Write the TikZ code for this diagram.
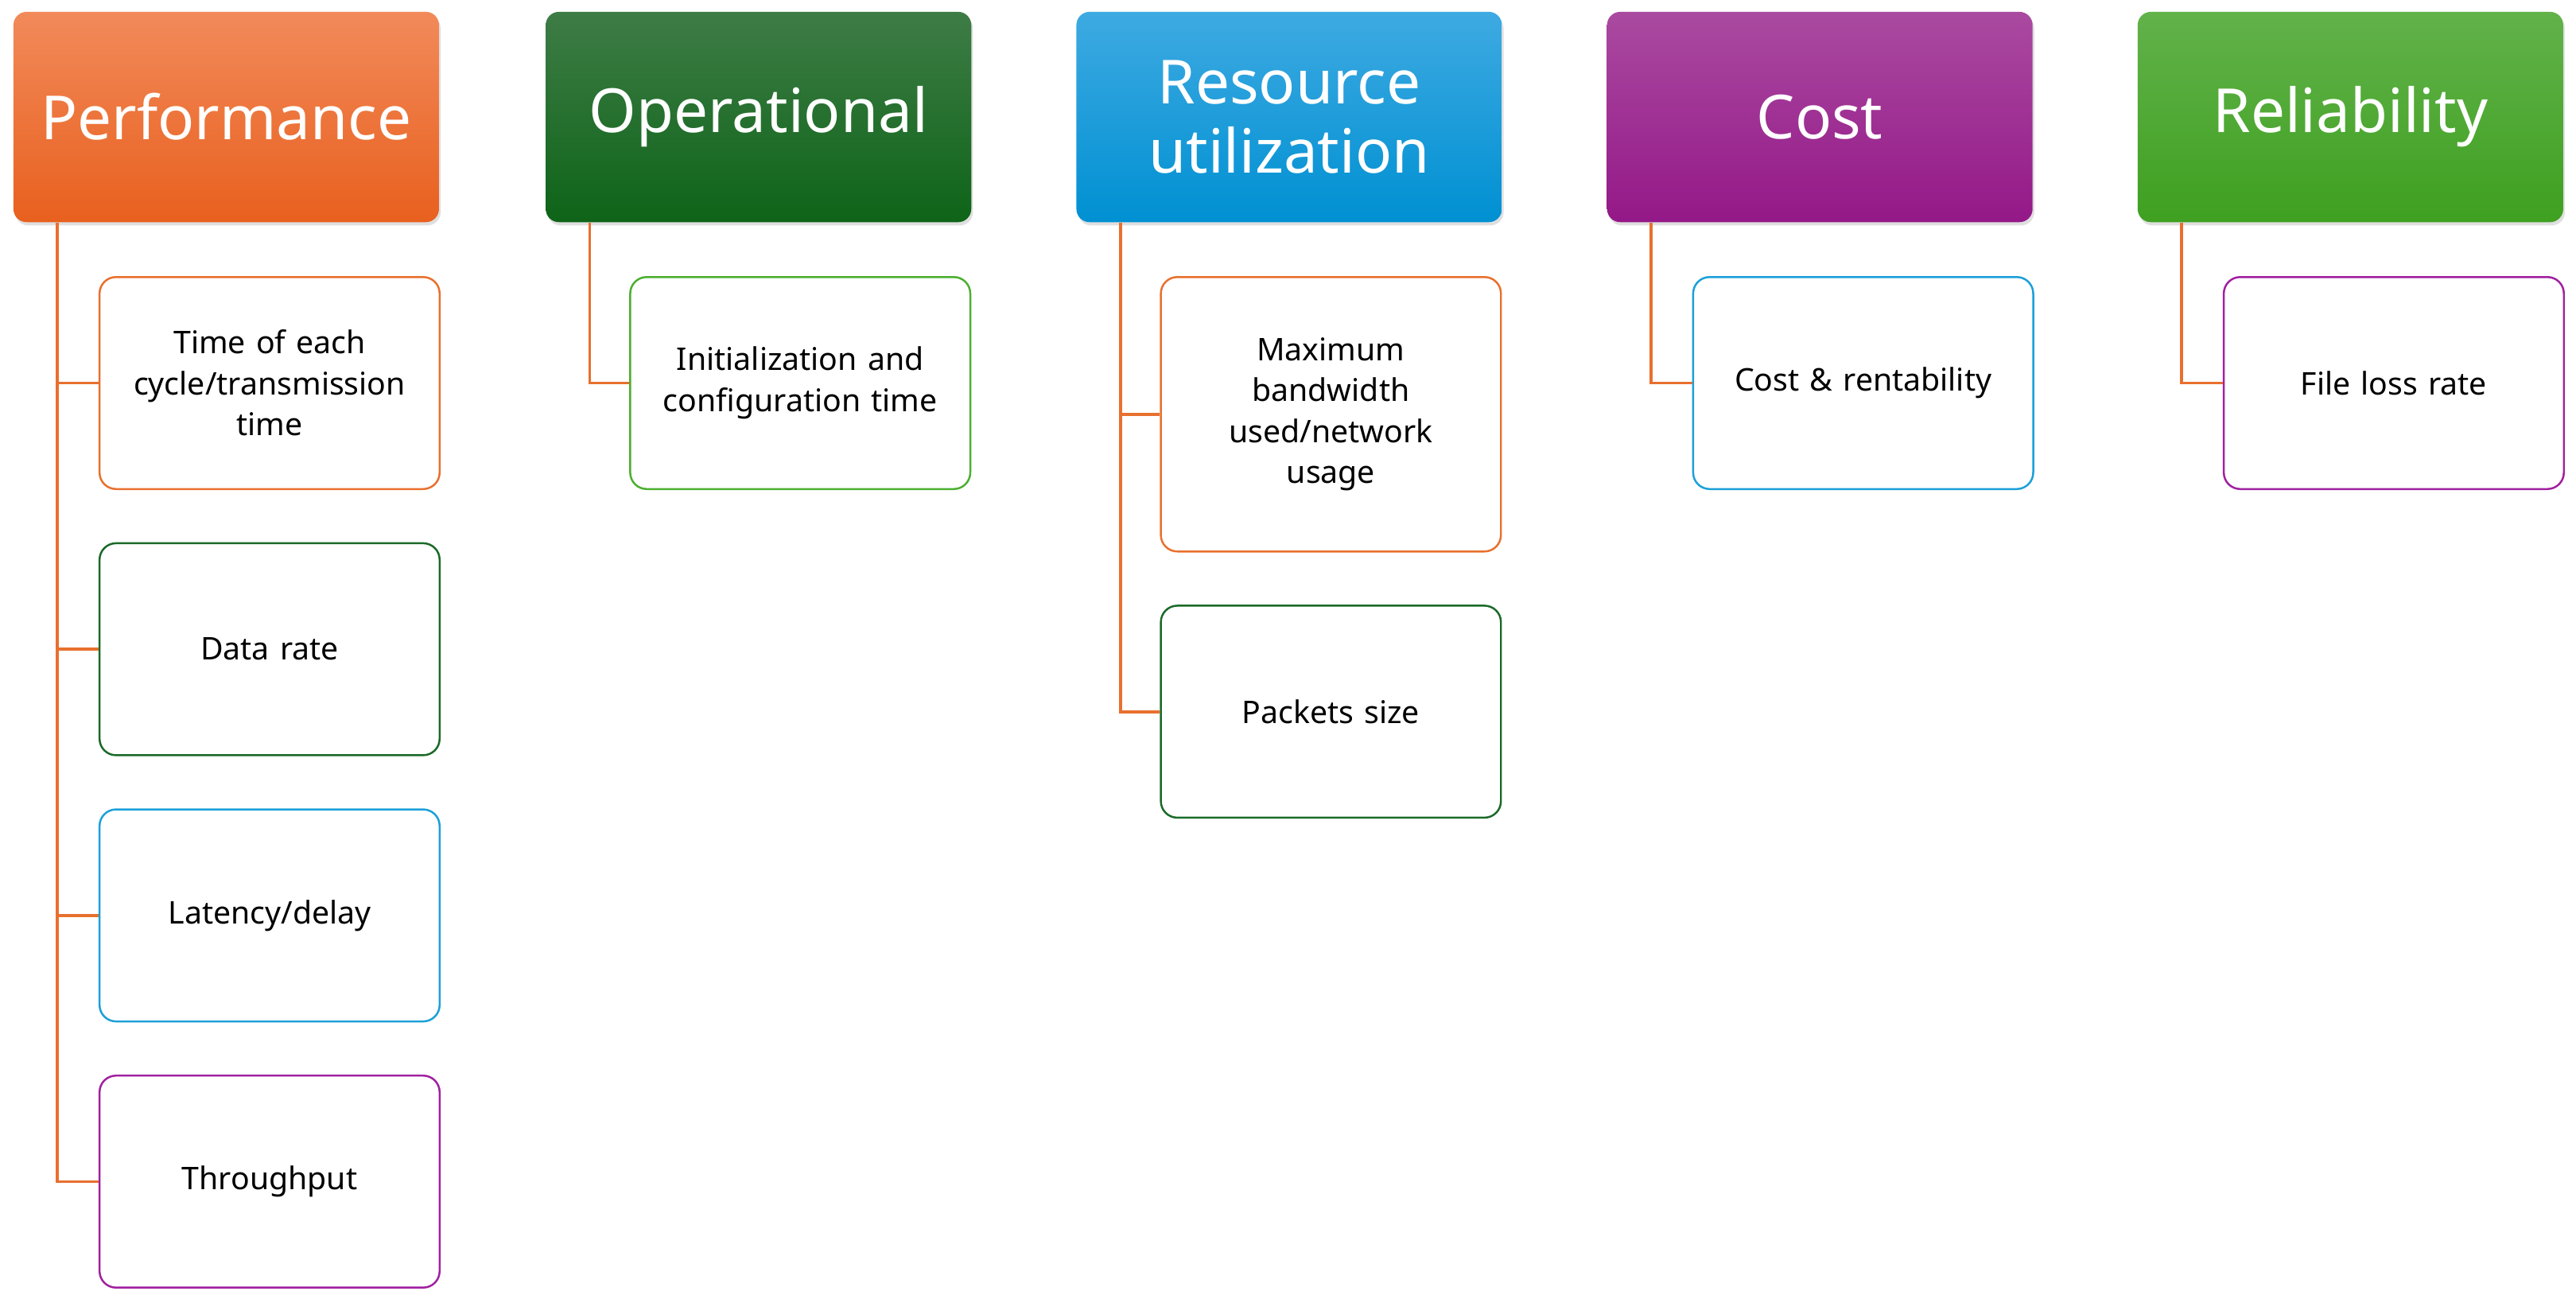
\documentclass[tikz,border=0pt]{standalone}
\usepackage{fontspec}
\setmainfont{Noto Sans}
\usetikzlibrary{shadows}
\definecolor{orA}{HTML}{F28A5A}\definecolor{orB}{HTML}{E8601E}
\definecolor{dgA}{HTML}{3E7C46}\definecolor{dgB}{HTML}{0E6418}
\definecolor{blA}{HTML}{3EAAE2}\definecolor{blB}{HTML}{0090D2}
\definecolor{puA}{HTML}{AA4AA0}\definecolor{puB}{HTML}{941888}
\definecolor{lgA}{HTML}{62B24A}\definecolor{lgB}{HTML}{3EA020}
\definecolor{cOr}{HTML}{E8702E}\definecolor{cDg}{HTML}{1A6A28}
\definecolor{cBl}{HTML}{1BA0D8}\definecolor{cPu}{HTML}{A020A0}
\definecolor{cLg}{HTML}{4CAF30}
\begin{document}
\begin{tikzpicture}[x=1pt,y=-1pt,
 head/.style={rounded corners=8pt,minimum width=259pt,minimum height=128pt,anchor=north west,
   text=white,font=\fontsize{37}{42}\selectfont,align=center,inner sep=2pt,
   drop shadow={shadow xshift=1pt,shadow yshift=-2pt,opacity=0.25}},
 kid/.style={draw=#1,line width=1.2pt,rounded corners=10pt,fill=white,minimum width=207pt,
   minimum height=129pt,anchor=north west,align=center,text width=195pt,
   font=\fontsize{19}{25}\selectfont},
 conn/.style={draw=cOr,line width=1.8pt}]
\useasboundingbox (0,0) rectangle (1568,788);
\node[head,top color=orA,bottom color=orB] (h1) at (8,7) {Performance};
\node[head,top color=dgA,bottom color=dgB] (h2) at (332,7) {Operational};
\node[head,top color=blA,bottom color=blB] (h3) at (655,7) {Resource\\utilization};
\node[head,top color=puA,bottom color=puB] (h4) at (978,7) {Cost};
\node[head,top color=lgA,bottom color=lgB] (h5) at (1301,7) {Reliability};
\node[kid=cOr] (a1) at (60,168) {Time of each\\cycle/transmission\\time};
\node[kid=cDg] (a2) at (60,330) {Data rate};
\node[kid=cBl] (a3) at (60,492) {Latency/delay};
\node[kid=cPu] (a4) at (60,654) {Throughput};
\node[kid=cLg] (b1) at (383,168) {Initialization and\\configuration time};
\node[kid=cOr,minimum height=167pt] (c1) at (706,168) {Maximum\\bandwidth\\used/network\\usage};
\node[kid=cDg] (c2) at (706,368) {Packets size};
\node[kid=cBl] (d1) at (1030,168) {Cost \& rentability};
\node[kid=cPu] (e1) at (1353,168) {File loss rate};
\foreach \h/\k in {h1/a1,h1/a2,h1/a3,h1/a4,h2/b1,h3/c1,h3/c2,h4/d1,h5/e1}
  \draw[conn] ([xshift=27pt]\h.south west) |- (\k.west);
\end{tikzpicture}
\end{document}
